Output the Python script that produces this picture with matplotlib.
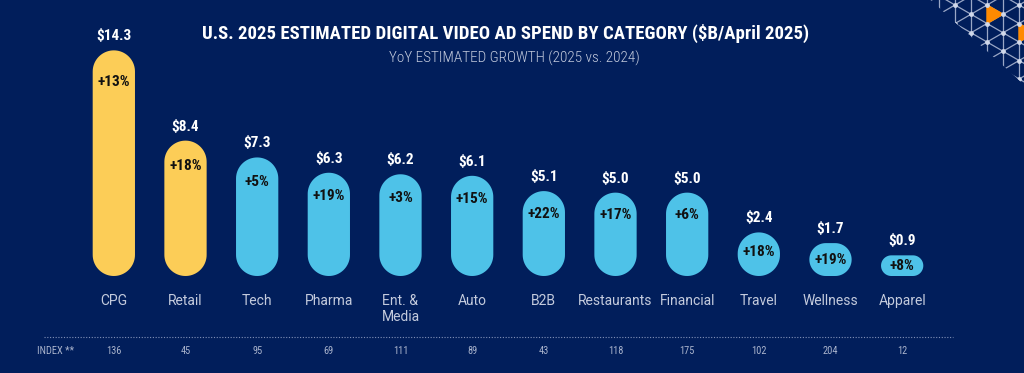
import numpy as np
import matplotlib
matplotlib.use('Agg')
import matplotlib.pyplot as plt
from matplotlib.patches import Polygon

# dados do grafico
categorias = ['CPG', 'Retail', 'Tech', 'Pharma', 'Ent. &\nMedia', 'Auto', 'B2B',
              'Restaurants', 'Financial', 'Travel', 'Wellness', 'Apparel']
gasto = [14.3, 8.4, 7.3, 6.3, 6.2, 6.1, 5.1, 5.0, 5.0, 2.4, 1.7, 0.9]
crescimento = ['+13%', '+18%', '+5%', '+19%', '+3%', '+15%', '+22%', '+17%', '+6%', '+18%', '+19%', '+8%']
indice = [136, 45, 95, 69, 111, 89, 43, 118, 175, 102, 204, 12]
destaque = ['CPG', 'Retail']

fundo = '#011e5b'
amarelo = '#fccd57'
azul = '#4ec2e8'
cinza = '#c4cbdd'
estreita = ['Roboto Condensed', 'DejaVu Sans']

W, H = 1024, 373
fig = plt.figure(figsize=(W / 100, H / 100), dpi=100, facecolor=fundo)

# eixo principal, em pixels: centro da 1a barra x=114, base y=276
base = -0.45
ymax = 15.5
ax_l, ax_w = 78, 860
ax_b = H - 276
ax_h = 244
ax = fig.add_axes([ax_l / W, ax_b / H, ax_w / W, ax_h / H])
ax.set_facecolor(fundo)
ax.set_xlim(-0.5, len(categorias) - 0.5)
ax.set_ylim(base, ymax)
ax.axis('off')

x_por_px = len(categorias) / ax_w
y_por_px = (ymax - base) / ax_h
largura = 0.59


def pilula(xc, topo, cor):
    # retangulo com cantos circulares (raio = metade do menor lado, em pixels)
    w_px = largura / x_por_px
    h_px = (topo - base) / y_por_px
    r_px = min(w_px, h_px) / 2
    rx, ry = r_px * x_por_px, r_px * y_por_px
    x0, x1 = xc - largura / 2, xc + largura / 2
    cantos = [(x1 - rx, topo - ry, 0), (x0 + rx, topo - ry, 90),
              (x0 + rx, base + ry, 180), (x1 - rx, base + ry, 270)]
    pts = []
    for cx, cy, a0 in cantos:
        t = np.radians(np.linspace(a0, a0 + 90, 20))
        pts += list(zip(cx + rx * np.cos(t), cy + ry * np.sin(t)))
    return Polygon(pts, closed=True, facecolor=cor, edgecolor='none')


for i in range(len(categorias)):
    v = gasto[i]
    cor = amarelo if categorias[i] in destaque else azul
    ax.add_patch(pilula(i, v, cor))

    ax.annotate('$%.1f' % v, (i, v), xytext=(0, 5), textcoords='offset points',
                ha='center', va='bottom', color='white', fontsize=11,
                fontweight='bold', family=estreita, annotation_clip=False)

    # rotulo de crescimento: perto do topo, ou no meio se a barra for curta
    h_px = (v - base) / y_por_px
    desl = min(17 + 0.065 * h_px, h_px / 2)
    ax.annotate(crescimento[i], (i, v), xytext=(0, -desl * 0.72), textcoords='offset points',
                ha='center', va='center', color='#111111', fontsize=11,
                fontweight='bold', family=estreita, annotation_clip=False)

    ax.annotate(categorias[i], (i, base), xytext=(0, -13), textcoords='offset points',
                ha='center', va='top', color=cinza, fontsize=10, family='Roboto',
                linespacing=1.15, annotation_clip=False)

    ax.annotate(str(indice[i]), (i, base), xytext=(0, -54), textcoords='offset points',
                ha='center', va='center', color='#a9b3cc', fontsize=7.5,
                family=estreita, annotation_clip=False)

# camada de fundo em pixels (titulo, linha pontilhada, decoracao)
bg = fig.add_axes([0, 0, 1, 1], zorder=-1)
bg.set_xlim(0, W)
bg.set_ylim(H, 0)
bg.axis('off')
bg.set_facecolor(fundo)

bg.text(506, 33, 'U.S. 2025 ESTIMATED DIGITAL VIDEO AD SPEND BY CATEGORY ($B/April 2025)',
        ha='center', va='center', color='white', fontsize=13.5, fontweight='bold', family=estreita)
bg.text(514, 58, 'YoY ESTIMATED GROWTH (2025 vs. 2024)',
        ha='center', va='center', color=cinza, fontsize=11, fontweight='light', family=estreita)

bg.plot([44, 953], [337, 337], color='#8191b8', linestyle=(0, (1, 1.5)), linewidth=0.8)
bg.text(56, 351, 'INDEX **', ha='center', va='center', color='#a9b3cc', fontsize=7.5, family=estreita)

# decoracao triangular no canto
clip = Polygon([(925, -5), (1030, -5), (1030, 90)], closed=True, transform=bg.transData)
dx, dy = 16, 18.5
linhas = []
for k in range(-6, 7):
    x = 955 + dx * k
    linhas.append(bg.plot([x, x], [-10, 120], color='#9aa7c6', linewidth=0.9)[0])
xs = np.array([880, 1060])
for j in range(-12, 14):
    c = 5 + dy * j
    linhas.append(bg.plot(xs, c + (xs - 955) * 0.5774, color='#9aa7c6', linewidth=0.9)[0])
    linhas.append(bg.plot(xs, c - (xs - 955) * 0.5774, color='#9aa7c6', linewidth=0.9)[0])
for ln in linhas:
    ln.set_clip_path(clip)
nos_x, nos_y = [], []
for k in range(-6, 7):
    for j in range(-2, 8):
        nos_x.append(955 + dx * k)
        nos_y.append(5 + dy * j + (k % 2) * dy / 2)
pts = bg.scatter(nos_x, nos_y, s=6, color='#d0d8ea', zorder=3)
pts.set_clip_path(clip)
tri1 = Polygon([(987, 5), (987, 23.5), (1003, 14.25)], closed=True, color='#ff8a00', zorder=2)
tri2 = Polygon([(1019, 23.5), (1019, 42), (1035, 32.75)], closed=True, color='#ff8a00', zorder=2)
bg.add_patch(tri1)
bg.add_patch(tri2)

fig.savefig('out.png', dpi=100, facecolor=fundo)
